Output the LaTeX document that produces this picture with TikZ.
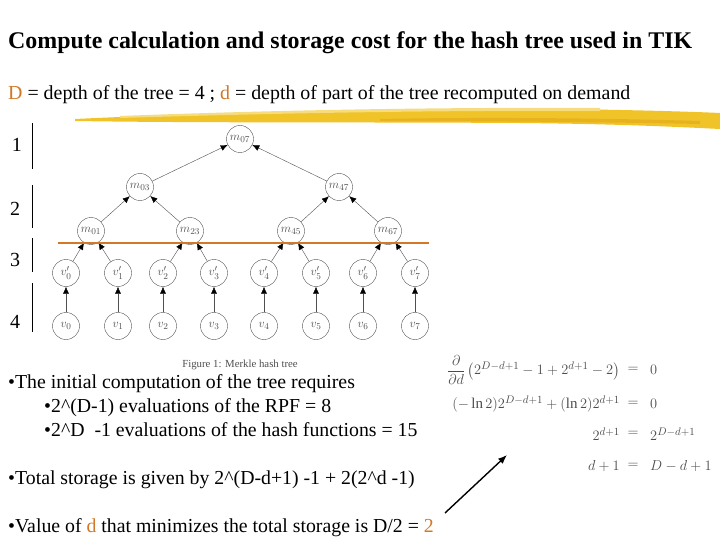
\documentclass[tikz,border=0pt]{standalone}
\usepackage{amsmath}
\usepackage{fontspec}
\setmainfont{Liberation Serif}
\usetikzlibrary{positioning, arrows.meta}
\definecolor{slideOrange}{RGB}{210, 120, 40}
\definecolor{brushYellow}{RGB}{240, 196, 40}
\definecolor{brushDark}{RGB}{232, 178, 30}
\definecolor{treeGray}{RGB}{80, 80, 80}

\begin{document}
\begin{tikzpicture}[x=1pt, y=-1pt,
    hnode/.style={circle, draw=treeGray, thin, minimum size=27pt, inner sep=0pt,
                  text=treeGray, font=\fontsize{12.5}{13}\selectfont},
    harrow/.style={-{Latex[length=7pt, width=6pt, color=black]}, draw=treeGray, thin},
    bodytext/.style={anchor=base west, inner sep=0pt, font=\fontsize{19.8}{22}\selectfont},
    levelnum/.style={inner sep=0pt, font=\fontsize{20}{22}\selectfont},
    eqtext/.style={inner sep=0pt, text=black!70, font=\fontsize{15}{18}\selectfont},
  ]
    \useasboundingbox (0,0) rectangle (720,540);
    \fill[white] (0,0) rectangle (720,540);

    % title and definitions
    \node[anchor=base west, inner sep=0pt, font=\fontsize{23.9}{27}\selectfont\bfseries]
      (TITLE) at (8,49) {Compute calculation and storage cost for the hash tree used in TIK};
    \node[bodytext, font=\fontsize{19.9}{22}\selectfont] (DEF) at (8,100)
      {\textcolor{slideOrange}{D} = depth of the tree = 4 ; \textcolor{slideOrange}{d} = depth of part of the tree recomputed on demand};

    % highlighter stroke
    \fill[brushYellow] (75,119) .. controls (200,113) and (400,108) .. (560,109)
      .. controls (640,110) and (700,112) .. (720,113) -- (720,129)
      .. controls (680,127) and (620,124) .. (520,123)
      .. controls (360,122) and (200,123) .. (75,121) -- cycle;
    \fill[brushYellow!60] (120,116) .. controls (250,111) and (420,107) .. (600,108)
      -- (600,111) .. controls (420,110) and (250,114) .. (120,118) -- cycle;
    \fill[brushDark] (380,119) .. controls (480,117) and (600,118) .. (700,121)
      -- (700,124) .. controls (600,122) and (480,121) .. (380,121) -- cycle;

    % level markers
    \node[levelnum] (L1) at (17,145) {1};
    \node[levelnum] (L2) at (15,209) {2};
    \node[levelnum] (L3) at (15,260) {3};
    \node[levelnum] (L4) at (15,322) {4};
    \coordinate (B1a) at (32,123); \coordinate (B1b) at (32,169);
    \coordinate (B2a) at (32,185); \coordinate (B2b) at (32,228);
    \coordinate (B3a) at (32,238); \coordinate (B3b) at (32,272);
    \coordinate (B4a) at (32,283); \coordinate (B4b) at (32,332);
    \draw[semithick] (B1a) -- (B1b);
    \draw[semithick] (B2a) -- (B2b);
    \draw[semithick] (B3a) -- (B3b);
    \draw[semithick] (B4a) -- (B4b);

    % hash tree
    \node[hnode] (M07) at (240,139) {$m_{07}$};
    \node[hnode] (M03) at (140,187) {$m_{03}$};
    \node[hnode] (M47) at (339,187) {$m_{47}$};
    \node[hnode] (M01) at (91,231) {$m_{01}$};
    \node[hnode] (M23) at (190,231) {$m_{23}$};
    \node[hnode] (M45) at (291,231) {$m_{45}$};
    \node[hnode] (M67) at (388,231) {$m_{67}$};
    \foreach \i/\x in {0/66, 1/118, 2/163, 3/214, 4/264, 5/316, 6/363, 7/415} {
      \node[hnode] (VP\i) at (\x,273) {$v'_{\i}$};
      \node[hnode] (V\i) at (\x,326) {$v_{\i}$};
      \draw[harrow] (V\i) -- (VP\i);
    }
    \draw[harrow] (M03) -- (M07);
    \draw[harrow] (M47) -- (M07);
    \draw[harrow] (M01) -- (M03);
    \draw[harrow] (M23) -- (M03);
    \draw[harrow] (M45) -- (M47);
    \draw[harrow] (M67) -- (M47);
    \draw[harrow] (VP0) -- (M01);
    \draw[harrow] (VP1) -- (M01);
    \draw[harrow] (VP2) -- (M23);
    \draw[harrow] (VP3) -- (M23);
    \draw[harrow] (VP4) -- (M45);
    \draw[harrow] (VP5) -- (M45);
    \draw[harrow] (VP6) -- (M67);
    \draw[harrow] (VP7) -- (M67);

    % cut line
    \coordinate (CUTa) at (58,243);
    \coordinate (CUTb) at (429,243);
    \draw[draw=slideOrange, line width=1.2pt] (CUTa) -- (CUTb);

    \node[inner sep=0pt, text=treeGray, font=\fontsize{10.8}{12}\selectfont] (CAP) at (240,365)
      {Figure 1: Merkle hash tree};

    % cost bullets
    \node[bodytext] (B1) at (8,388) {\textbullet The initial computation of the tree requires};
    \node[bodytext] (B1x) at (44,412) {\textbullet 2\^{}(D-1) evaluations of the RPF = 8};
    \node[bodytext] (B1y) at (44,436) {\textbullet 2\^{}D\ \ -1 evaluations of the hash functions = 15};
    \node[bodytext] (B2) at (8,484) {\textbullet Total storage is given by 2\^{}(D-d+1) -1 + 2(2\^{}d -1)};
    \node[bodytext] (B3) at (8,532)
      {\textbullet Value of \textcolor{slideOrange}{d} that minimizes the total storage is D/2 = \textcolor{slideOrange}{2}};

    % derivation
    \node[eqtext, anchor=east] (E1l) at (620,370)
      {$\dfrac{\partial}{\partial d}\left(2^{D-d+1}-1+2^{d+1}-2\right)$};
    \node[eqtext] (E1m) at (633,370) {$=$};
    \node[eqtext, anchor=west] (E1r) at (650,370) {$0$};
    \node[eqtext, anchor=east] (E2l) at (620,404) {$(-\ln 2)2^{D-d+1}+(\ln 2)2^{d+1}$};
    \node[eqtext] (E2m) at (633,404) {$=$};
    \node[eqtext, anchor=west] (E2r) at (650,404) {$0$};
    \node[eqtext, anchor=east] (E3l) at (620,434) {$2^{d+1}$};
    \node[eqtext] (E3m) at (633,434) {$=$};
    \node[eqtext, anchor=west] (E3r) at (650,434) {$2^{D-d+1}$};
    \node[eqtext, anchor=east] (E4l) at (620,466) {$d+1$};
    \node[eqtext] (E4m) at (633,466) {$=$};
    \node[eqtext, anchor=west] (E4r) at (650,466) {$D-d+1$};

    \coordinate (ARRt) at (445,513);
    \coordinate (ARRh) at (507,455);
    \draw[-{Latex[length=9pt, width=7pt]}, line width=1.4pt] (ARRt) -- (ARRh);
  \end{tikzpicture}
\end{document}
